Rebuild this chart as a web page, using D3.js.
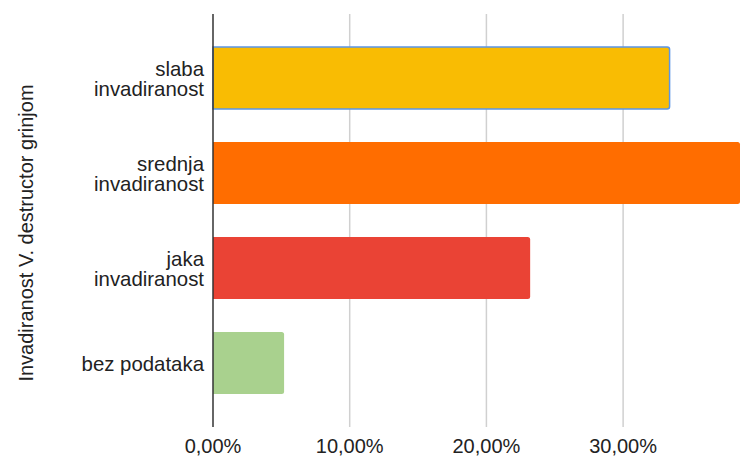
<!DOCTYPE html>
<html><head><meta charset="utf-8">
<script src="https://cdn.jsdelivr.net/npm/d3@7"></script>
<style>body{margin:0;background:#fff}svg{display:block}text{font-family:"Liberation Sans",Arial,sans-serif}</style>
</head><body>
<svg id="c" width="750" height="458"></svg>
<script>
const categories = [["slaba","invadiranost"],["srednja","invadiranost"],["jaka","invadiranost"],["bez podataka"]];
const values = [0.334, 0.3855, 0.232, 0.052];
const colors = ["#f9bc03","#ff6d00","#ea4335","#a9d18e"];
const xTicks = [0, 0.1, 0.2, 0.3];
const tickLabels = ["0,00%","10,00%","20,00%","30,00%"];
const yTitle = "Invadiranost V. destructor grinjom";

const svg = d3.select("#c");
const mLeft = 213, mRight = 740, mTop = 14, mBottom = 427;
const x = d3.scaleLinear().domain([0, 0.3855]).range([mLeft, mRight]);
const y = d3.scaleBand().domain(d3.range(categories.length)).range([mTop, mBottom]).padding(0.347);

// gridlines
svg.append("g").selectAll("line").data(xTicks.slice(1)).join("line")
  .attr("x1", d => x(d)).attr("x2", d => x(d)).attr("y1", mTop).attr("y2", mBottom)
  .attr("stroke", "#d0d0d0").attr("stroke-width", 1.5);

// bars with rounded right corners
function barPath(x0, x1, y0, h, r) {
  return `M${x0},${y0}H${x1-r}Q${x1},${y0} ${x1},${y0+r}V${y0+h-r}Q${x1},${y0+h} ${x1-r},${y0+h}H${x0}Z`;
}
svg.append("g").selectAll("path").data(values).join("path")
  .attr("d", (d, i) => barPath(x(0), x(d), y(i), y.bandwidth(), 2.5))
  .attr("fill", (d, i) => colors[i])
  .attr("stroke", (d, i) => i === 0 ? "#5b95e6" : "none")
  .attr("stroke-width", 1.5);

// axis line
svg.append("line").attr("x1", mLeft).attr("x2", mLeft).attr("y1", mTop).attr("y2", mBottom)
  .attr("stroke", "#333").attr("stroke-width", 1.5);

// x tick labels
svg.append("g").selectAll("text").data(xTicks).join("text")
  .attr("x", d => x(d)).attr("y", 453).attr("text-anchor", "middle")
  .attr("font-size", 20).attr("fill", "#222").text((d, i) => tickLabels[i]);

// category labels
const lab = svg.append("g").selectAll("text").data(categories).join("text")
  .attr("text-anchor", "end").attr("font-size", 20.4).attr("fill", "#222")
  .attr("transform", (d, i) => `translate(204,${y(i) + y.bandwidth()/2})`);
lab.each(function(d) {
  const t = d3.select(this);
  const n = d.length, lh = 20;
  d.forEach((s, k) => {
    t.append("tspan").attr("x", 0).attr("y", (k - (n - 1) / 2) * lh + 8).text(s);
  });
});

// y title
svg.append("text").attr("transform", `translate(33,233) rotate(-90)`)
  .attr("text-anchor", "middle").attr("font-size", 20).attr("fill", "#222").text(yTitle);
</script>
</body></html>
